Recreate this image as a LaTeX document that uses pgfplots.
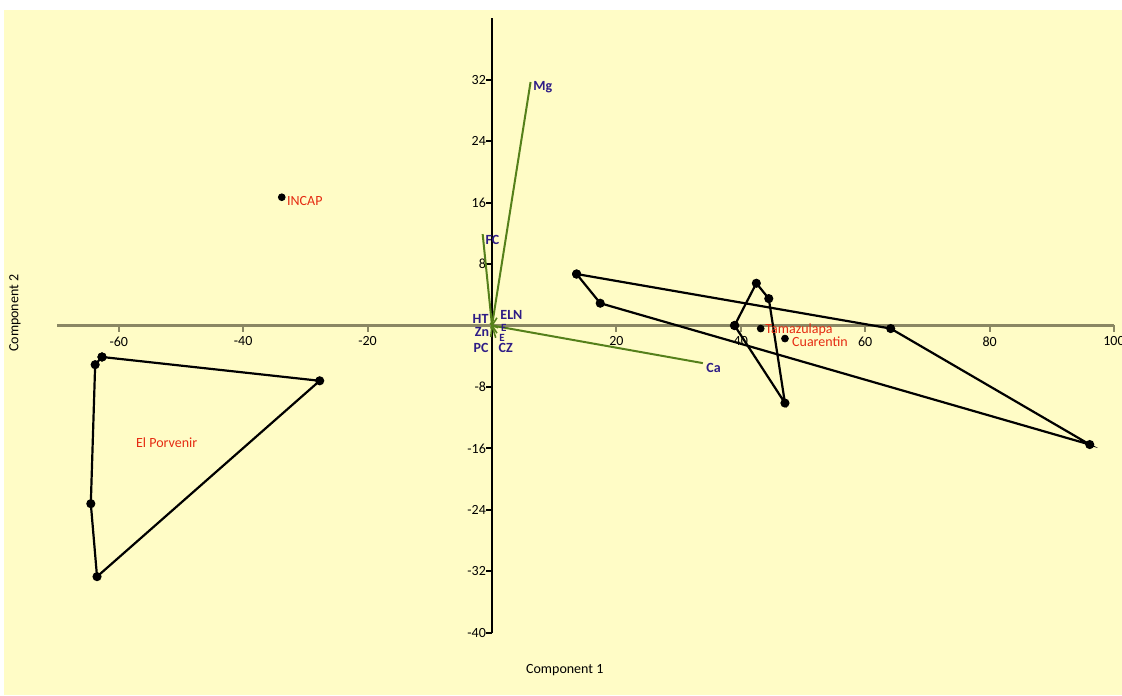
\documentclass[border=0pt]{standalone}
\usepackage{pgfplots}
\pgfplotsset{compat=1.18}
\usepackage{fontspec}
\setmainfont{Carlito}
\definecolor{bgyel}{HTML}{FFFCC6}
\definecolor{axgray}{HTML}{8A8763}
\definecolor{vecgreen}{HTML}{55801B}
\definecolor{lblblue}{HTML}{2E1C86}
\definecolor{lblred}{HTML}{E52B12}
\begin{document}
\begin{tikzpicture}
\fill[white] (0,0) rectangle (561pt,347.5pt);
\fill[bgyel] (2pt,0) rectangle (561pt,342.5pt);
\begin{axis}[
  scale only axis, width=561pt, height=347.5pt,
  xmin=-79.10, xmax=101.29, ymin=-48.11, ymax=42.38,
  axis lines=middle, axis line style={-, draw opacity=0},
  clip=false,
  xtick={-60,-40,-20,20,40,60,80,100},
  ytick={-40,-32,-24,-16,-8,8,16,24,32},
  major tick length=0pt,
  tick label style={font=\fontsize{7}{8}\selectfont, text=black},
  xticklabel style={yshift=-2pt},
  yticklabel style={xshift=0.5pt},
  /pgf/number format/assume math mode=true,
]
% axis lines
\addplot[axgray, line width=1.1pt] coordinates {(-69.9,0) (100,0)};
\addplot[black, line width=1.1pt] coordinates {(0,-40) (0,40)};
% tick marks
\pgfplotsinvokeforeach{-60,-40,-20,20,40,60,80,100}{
  \addplot[axgray, line width=1pt] coordinates {(#1,0) (#1,-0.85)};
}
\pgfplotsinvokeforeach{-40,-32,-24,-16,-8,8,16,24,32}{
  \addplot[black, line width=1pt] coordinates {(0,#1) (-0.95,#1)};
}
% loading vectors
\addplot[vecgreen, line width=1pt] coordinates {(0,0) (6.2,31.7)};
\addplot[vecgreen, line width=1pt] coordinates {(0,0) (-1.5,11.9)};
\addplot[vecgreen, line width=1pt] coordinates {(0,0) (33.9,-4.9)};
\addplot[vecgreen, line width=0.8pt] coordinates {(0,0) (0.8,1.0)};
\addplot[vecgreen, line width=0.8pt] coordinates {(0,0) (-0.3,0.3)};
\addplot[vecgreen, line width=0.8pt] coordinates {(0,0) (-0.2,-0.4)};
\addplot[vecgreen, line width=0.8pt] coordinates {(0,0) (-0.2,-1.5)};
\addplot[vecgreen, line width=0.8pt] coordinates {(0,0) (0.6,-1.6)};
\addplot[vecgreen, line width=0.8pt] coordinates {(0,0) (1.0,-0.3)};
\addplot[vecgreen, line width=0.8pt] coordinates {(0,0) (0.8,-1.0)};
% convex hulls
\addplot[black, line width=1.1pt, mark=*, mark size=1.7pt] coordinates {
  (-62.7,-4.1) (-27.7,-7.2) (-63.5,-32.7) (-64.5,-23.2) (-63.8,-5.1) (-62.7,-4.1)};
\addplot[black, line width=1.1pt, mark=*, mark size=1.7pt] coordinates {
  (13.6,6.7) (64.1,-0.4) (96.1,-15.5) (17.4,2.9) (13.6,6.7)};
\addplot[black, line width=1.1pt, mark=*, mark size=1.7pt] coordinates {
  (39.0,0.0) (42.5,5.5) (44.5,3.5) (47.1,-10.1) (39.0,0.0)};
% single points
\addplot[only marks, black, mark=*, mark size=1.7pt] coordinates {
  (-33.8,16.7) (43.2,-0.4) (47.1,-1.7)};
% vector labels
\begin{scope}[every node/.style={font=\fontsize{7}{8}\selectfont\bfseries, text=lblblue, inner sep=0pt}]
\node[anchor=west] at (axis cs:6.6,31.0) {Mg};
\node[anchor=west] at (axis cs:-1.1,11.1) {FC};
\node[anchor=west] at (axis cs:34.4,-5.5) {Ca};
\node[anchor=west] at (axis cs:1.3,1.4) {ELN};
\node[anchor=east] at (axis cs:-0.5,0.8) {HT};
\node[anchor=east] at (axis cs:-0.4,-0.8) {Zn};
\node[anchor=east] at (axis cs:-0.5,-2.9) {PC};
\node[anchor=west] at (axis cs:1.0,-2.9) {CZ};
\node[font=\fontsize{5.5}{6}\selectfont\bfseries] at (axis cs:1.9,-0.3) {E};
\node[font=\fontsize{5.5}{6}\selectfont\bfseries] at (axis cs:1.6,-1.6) {E};
\end{scope}
% group labels
\begin{scope}[every node/.style={font=\fontsize{7}{8}\selectfont, text=lblred, inner sep=0pt}]
\node[anchor=west] at (axis cs:-33.0,16.2) {INCAP};
\node[anchor=west] at (axis cs:43.9,-0.5) {Tamazulapa};
\node[anchor=west] at (axis cs:48.2,-2.1) {Cuarentin};
\node at (axis cs:-52.3,-15.2) {El Porvenir};
\end{scope}
% axis titles
\node[font=\fontsize{7}{8}\selectfont] at (axis cs:11.7,-44.9) {Component 1};
\node[font=\fontsize{7}{8}\selectfont, rotate=90] at (axis cs:-76.7,1.6) {Component 2};
\end{axis}
\pgfresetboundingbox
\path[use as bounding box] (0,0) rectangle (561pt,347.5pt);
\end{tikzpicture}
\end{document}
